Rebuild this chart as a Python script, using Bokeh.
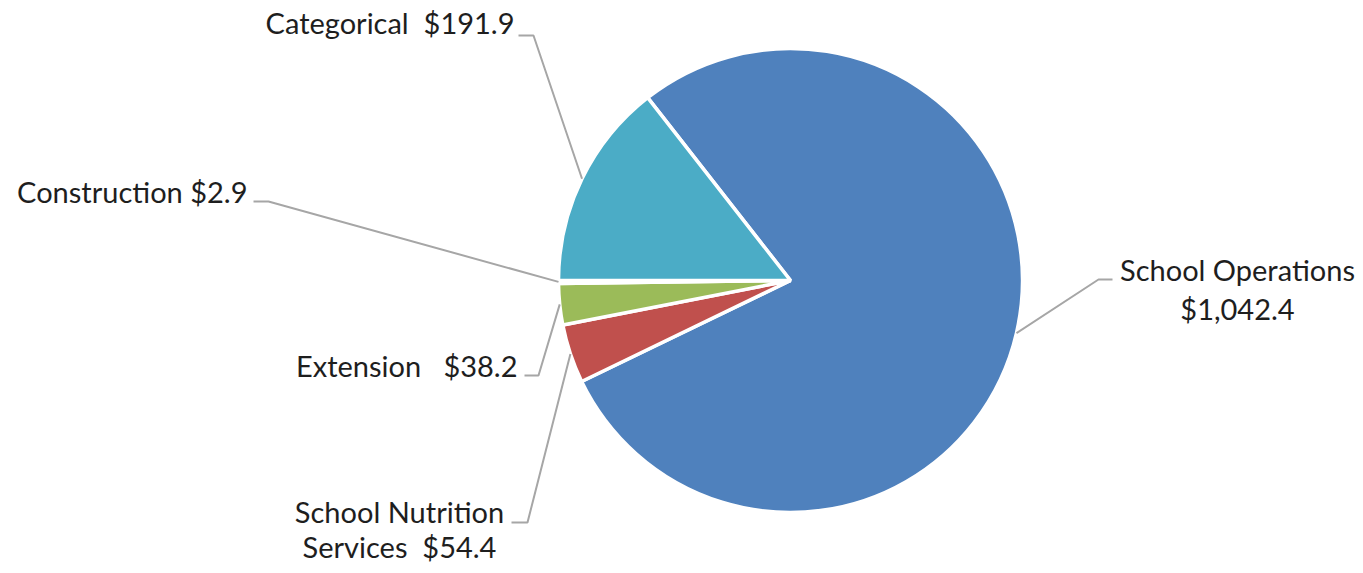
import math
from bokeh.plotting import figure
from bokeh.models import Range1d, ColumnDataSource
from bokeh.core.properties import value
from bokeh.embed import file_html
from bokeh.resources import INLINE

# ---- data ----
categories = ["School Operations", "School Nutrition Services", "Extension", "Construction", "Categorical"]
values = [1042.4, 54.4, 38.2, 2.9, 191.9]
colors = ["#4F81BD", "#C0504D", "#9BBB59", "#8064A2", "#4BACC6"]
NB = "\u00a0"
label_lines = [
    ["School Operations", "{v}"],
    ["School Nutrition", "Services" + NB + " {v}"],
    ["Extension" + NB + NB + " {v}"],
    ["Construction {v}"],
    ["Categorical" + NB + " {v}"],
]

# ---- layout (pixel coordinates in the picture, y down) ----
W, H = 1355, 565
CX, CY, R = 790, 280, 232
START_DEG = 322.0  # clockwise from 12 o'clock
TEXT_DY = -11
label_anchor = [  # (x, first baseline y, align, line step)
    (1237, 280, "center", 39),
    (399, 522, "center", 35),
    (517, 376, "right", 0),
    (247, 202, "right", 0),
    (514, 33, "right", 0),
]
leader_elbows = [
    [(1098, 279), (1112, 279)],
    [(527, 522), (511, 522)],
    [(538, 375), (524, 375)],
    [(268, 201), (253, 201)],
    [(533, 35), (518, 35)],
]


def sy(y):
    return H - y


p = figure(width=W, height=H, output_backend="svg", toolbar_location=None,
           x_range=Range1d(0, W), y_range=Range1d(0, H),
           min_border=0, outline_line_color=None, background_fill_color="white",
           border_fill_color="white")
p.axis.visible = False
p.grid.visible = False

total = sum(values)
starts, ends, mids = [], [], []
acc = START_DEG
for v in values:
    span = v / total * 360.0
    starts.append(acc)
    ends.append(acc + span)
    mids.append(acc + span / 2)
    acc += span

src = ColumnDataSource(dict(
    x=[CX] * len(values), y=[sy(CY)] * len(values),
    start=[math.radians(90 - a) for a in starts],
    end=[math.radians(90 - a) for a in ends],
    color=colors, cat=categories, val=values,
))
p.wedge(x="x", y="y", radius=R, start_angle="start", end_angle="end",
        direction="clock", fill_color="color", line_color="white", line_width=3.5,
        source=src)

# leader lines
for m, elbow in zip(mids, leader_elbows):
    ax = CX + R * math.sin(math.radians(m))
    ay = CY - R * math.cos(math.radians(m))
    pts = [(ax, ay)] + elbow
    p.line([q[0] for q in pts], [sy(q[1]) for q in pts], line_color="#A6A6A6", line_width=2)

# labels
for cat, v, lines, (lx, ly, align, step) in zip(categories, values, label_lines, label_anchor):
    vs = "${:,.1f}".format(v)
    for i, ln in enumerate(lines):
        p.text(x=[lx], y=[sy(ly + TEXT_DY + i * step)], text=[ln.format(v=vs)],
               text_font=value("Lato"), text_font_size="29px", text_color="#1E1E1E",
               text_align=align, text_baseline="alphabetic")

open("out.html", "w").write(file_html(p, INLINE))
